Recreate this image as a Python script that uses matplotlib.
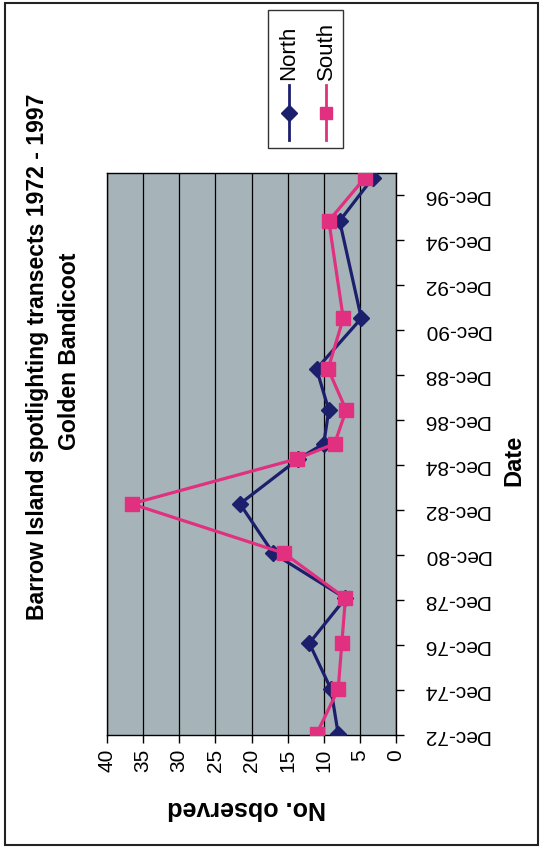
import matplotlib
matplotlib.use('Agg')
import matplotlib.pyplot as plt
from matplotlib.patches import Rectangle
from matplotlib.lines import Line2D
import pandas as pd

# ---- data ----
survey_dates = ['1972-12-15', '1974-12-15', '1977-01-01', '1979-01-01', '1981-01-01',
                '1983-03-15', '1985-03-15', '1985-11-15', '1987-05-15', '1989-03-15',
                '1991-06-15', '1995-10-15', '1997-09-15']
north = [8, 9, 12, 7, 17, 21.6, 13.5, 10, 9.3, 11, 4.8, 7.8, 3.2]
south = [11, 8, 7.5, 7, 15.5, 36.6, 13.7, 8.5, 6.9, 9.4, 7.3, 9.3, 4.3]
series_names = ['North', 'South']
date_ticks = ['1972-12-01', '1974-12-01', '1976-12-01', '1978-12-01', '1980-12-01',
              '1982-12-01', '1984-12-01', '1986-12-01', '1988-12-01', '1990-12-01',
              '1992-12-01', '1994-12-01', '1996-12-01']
date_tick_labels = ['Dec-72', 'Dec-74', 'Dec-76', 'Dec-78', 'Dec-80', 'Dec-82', 'Dec-84',
                    'Dec-86', 'Dec-88', 'Dec-90', 'Dec-92', 'Dec-94', 'Dec-96']
count_ticks = [0, 5, 10, 15, 20, 25, 30, 35, 40]
title_lines = ['Barrow Island spotlighting transects 1972 - 1997', 'Golden Bandicoot']

# ---- style ----
plt.rcParams['font.family'] = ['Liberation Sans', 'DejaVu Sans']
NAVY = '#1c1f6b'
PINK = '#e0307f'
BG = '#a6b4b9'
W, H = 544, 847

def fx(px):
    return px / W

def fy(py):
    return 1 - py / H

fig = plt.figure(figsize=(W / 100, H / 100), dpi=100)

# outer border
fig.patches.append(Rectangle((fx(5), fy(845)), fx(538) - fx(5), fy(3) - fy(845),
                             transform=fig.transFigure, fill=False, ec='#222222', lw=1.5))

ax = fig.add_axes([fx(107), fy(735), fx(396) - fx(107), fy(173) - fy(735)])
ax.set_facecolor(BG)

d = pd.to_datetime(survey_dates)
ax.plot(north, d, color=NAVY, marker='D', ms=8, lw=2.3, zorder=3)
ax.plot(south, d, color=PINK, marker='s', ms=9.5, lw=2.3, zorder=4)

ax.set_xlim(40, 0)
ax.set_ylim(pd.Timestamp('1972-12-01'), pd.Timestamp('1997-12-01'))
ax.set_xticks(count_ticks)
ax.set_xticklabels([str(v) for v in count_ticks], rotation=90, fontsize=15)
ax.grid(axis='x', color='black', lw=0.9)
ax.set_axisbelow(True)

ax.yaxis.tick_right()
ax.set_yticks(pd.to_datetime(date_ticks))
ax.set_yticklabels(date_tick_labels, rotation=180, fontsize=15, va='center')
ax.tick_params(axis='y', direction='out', length=6, width=1, pad=13)
ax.tick_params(axis='x', direction='out', length=6, width=1, pad=4)
for s in ax.spines.values():
    s.set_color('black')
    s.set_linewidth(1.0)

# axis titles
fig.text(fx(247), fy(808), 'No. observed', rotation=180, ha='center', va='center',
         fontsize=18, fontweight='bold')
fig.text(fx(514), fy(460), 'Date', rotation=90, ha='center', va='center',
         fontsize=17, fontweight='bold')

# chart title
fig.text(fx(38), fy(357), title_lines[0], rotation=90, ha='center', va='center',
         fontsize=16.6, fontweight='bold')
fig.text(fx(69), fy(351), title_lines[1], rotation=90, ha='center', va='center',
         fontsize=16.6, fontweight='bold')

# legend (drawn rotated to match the page orientation)
fig.patches.append(Rectangle((fx(268), fy(148)), fx(343) - fx(268), fy(10) - fy(148),
                             transform=fig.transFigure, fill=False, ec='#333333', lw=1.0))
for xpos, name, col, mk, ms in [(289, series_names[0], NAVY, 'D', 8),
                                (326, series_names[1], PINK, 's', 9)]:
    fig.lines.append(Line2D([fx(xpos), fx(xpos)], [fy(140), fy(85)], transform=fig.transFigure,
                            color=col, lw=2))
    fig.lines.append(Line2D([fx(xpos)], [fy(113)], transform=fig.transFigure,
                            color=col, marker=mk, ms=ms, lw=0))
    fig.text(fx(xpos), fy(80), name, rotation=90, ha='center', va='bottom', fontsize=16)

fig.savefig('out.png', dpi=100)
